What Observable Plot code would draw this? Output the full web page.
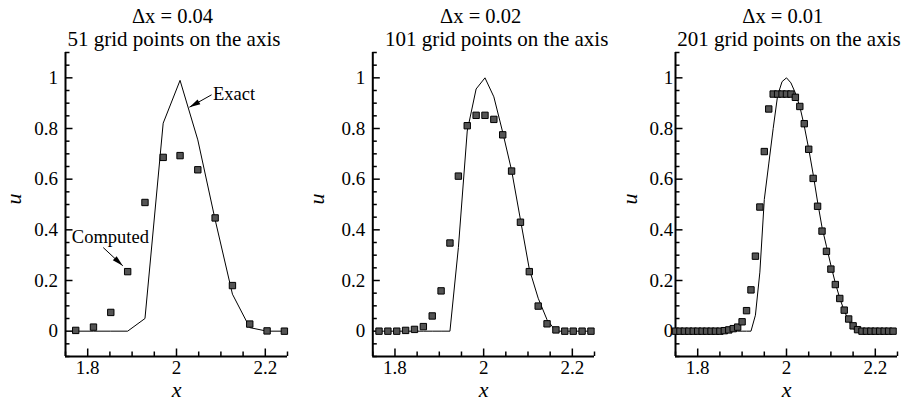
<!DOCTYPE html>
<html><head><meta charset="utf-8">
<script src="https://cdn.jsdelivr.net/npm/d3@7"></script>
<script src="https://cdn.jsdelivr.net/npm/@observablehq/plot@0.6"></script>
<style>
body{margin:0;background:#fff;}
#row{display:flex;width:909px;height:401px;overflow:visible;}
#row svg{flex:none;display:block;overflow:visible;background:none;}
#row svg text{font-family:'Liberation Serif','Times New Roman','DejaVu Serif',serif !important;}
</style></head><body><div id="row"></div>
<script>
// ---- axis ticks ----
const xDomain = [1.75, 2.25];
const yDomain = [-0.1, 1.1];
const xTicks = [1.8, 2, 2.2];
const xMinorTicks = [1.75, 1.85, 1.9, 1.95, 2.05, 2.1, 2.15, 2.25];
const yTicks = [0, 0.2, 0.4, 0.6, 0.8, 1];
const yMinorTicks = [-0.1, -0.05, 0.05, 0.1, 0.15, 0.25, 0.3, 0.35, 0.45, 0.5, 0.55, 0.65, 0.7, 0.75, 0.85, 0.9, 0.95, 1.05, 1.1];

// ---- titles / labels ----
const titlesTop = ["\u0394x = 0.04", "\u0394x = 0.02", "\u0394x = 0.01"];
const titlesBottom = ["51 grid points on the axis", "101 grid points on the axis", "201 grid points on the axis"];
const xLabel = "x";
const yLabel = "u";

// ---- panel 1 (dx = 0.04) ----
const x1 = [1.773, 1.813, 1.852, 1.890, 1.929, 1.970, 2.008, 2.048, 2.087, 2.126, 2.165, 2.204, 2.243];
const computed1 = [0.003, 0.016, 0.074, 0.235, 0.508, 0.686, 0.693, 0.637, 0.447, 0.180, 0.028, 0.001, 0.0];
const exact1 = [0, 0, 0, 0, 0.05, 0.821, 0.99, 0.755, 0.44, 0.146, 0.014, 0, 0];

// ---- panel 2 (dx = 0.02) ----
const x2 = [1.764, 1.784, 1.804, 1.824, 1.844, 1.864, 1.884, 1.904, 1.924, 1.943, 1.963, 1.983, 2.003,
            2.023, 2.043, 2.063, 2.083, 2.103, 2.123, 2.143, 2.163, 2.183, 2.202, 2.222, 2.242];
const computed2 = [0, 0, 0, 0.003, 0.007, 0.018, 0.06, 0.159, 0.348, 0.612, 0.811, 0.852, 0.852,
                   0.836, 0.775, 0.632, 0.43, 0.235, 0.099, 0.029, 0.005, 0, 0, 0, 0];
const exact2 = [0, 0, 0, 0, 0, 0, 0, 0, 0, 0.33, 0.79, 0.956, 1.0,
                0.925, 0.785, 0.635, 0.44, 0.245, 0.13, 0.045, 0, 0, 0, 0, 0];

// ---- panel 3 (dx = 0.01) ----
const x3 = [1.75, 1.76, 1.77, 1.78, 1.79, 1.80, 1.81, 1.82, 1.83, 1.84,
            1.85, 1.86, 1.87, 1.88, 1.89, 1.90, 1.91, 1.92, 1.93, 1.94,
            1.95, 1.96, 1.97, 1.98, 1.99, 2.00, 2.01, 2.02, 2.03, 2.04,
            2.05, 2.06, 2.07, 2.08, 2.09, 2.10, 2.11, 2.12, 2.13, 2.14,
            2.15, 2.16, 2.17, 2.18, 2.19, 2.20, 2.21, 2.22, 2.23, 2.24];
const computed3 = [0, 0, 0, 0, 0, 0, 0, 0, 0, 0,
                   0, 0.002, 0.005, 0.010, 0.016, 0.037, 0.081, 0.163, 0.296, 0.49,
                   0.709, 0.877, 0.936, 0.936, 0.936, 0.936, 0.936, 0.923, 0.887, 0.819,
                   0.718, 0.603, 0.493, 0.395, 0.315, 0.245, 0.184, 0.129, 0.083, 0.048,
                   0.021, 0.006, 0, 0, 0, 0, 0, 0, 0, 0];
const exact3 = [0, 0, 0, 0, 0, 0, 0, 0, 0, 0,
                0, 0, 0, 0, 0, 0, 0, 0, 0.063, 0.233,
                0.52, 0.66, 0.80, 0.93, 0.985, 1.0, 0.98, 0.94, 0.887, 0.81,
                0.72, 0.62, 0.51, 0.41, 0.335, 0.26, 0.19, 0.13, 0.08, 0.042,
                0.01, 0, 0, 0, 0, 0, 0, 0, 0, 0];

// ---- annotations (panel 1) ----
const annLabels = ["Exact", "Computed"];
const annTextX = [2.082, 1.851];
const annTextY = [0.9375, 0.370];
const annAnchor = ["start", "middle"];
const arrowFromX = [2.079, 1.835];
const arrowFromY = [0.933, 0.330];
const arrowToX = [2.029, 1.879];
const arrowToY = [0.884, 0.258];

// ---- layout ----
const W = 303, H = 401, MT = 52, MB = 45;
const layout = [
  {ml: 65, mr: 16, yPad: 7.5, uDx: -45, t1Dx: -4, t2Dx: -2.5},
  {ml: 69.3, mr: 12, yPad: 7.5, uDx: -48.6, t1Dx: -3, t2Dx: 13},
  {ml: 69, mr: 12, yPad: 2.3, uDx: -38.3, t1Dx: -3.7, t2Dx: 2.5}
];
const serif = "'Liberation Serif', 'Times New Roman', 'DejaVu Serif', serif";

const series = [
  {xs: x1, comp: computed1, ex: exact1},
  {xs: x2, comp: computed2, ex: exact2},
  {xs: x3, comp: computed3, ex: exact3}
];

const row = document.getElementById("row");

series.forEach((s, i) => {
  const L = layout[i];
  const fw = W - L.ml - L.mr;
  const fh = H - MT - MB;
  const data = s.xs.map((x, j) => ({x, c: s.comp[j], e: s.ex[j]}));
  const marks = [
    Plot.ruleX([xDomain[0]], {x: d => d, stroke: "black", strokeWidth: 2}),
    Plot.ruleY([yDomain[0]], {y: d => d, stroke: "black", strokeWidth: 2}),
    Plot.tickX(xTicks, {x: d => d, insetTop: fh - 7.5, stroke: "black", strokeWidth: 1.5}),
    Plot.tickX(xMinorTicks, {x: d => d, insetTop: fh - 4.5, stroke: "black", strokeWidth: 1.5}),
    Plot.tickY(yTicks, {y: d => d, insetRight: fw - 7.5, stroke: "black", strokeWidth: 1.5}),
    Plot.tickY(yMinorTicks, {y: d => d, insetRight: fw - 4.5, stroke: "black", strokeWidth: 1.5}),
    Plot.line(data, {x: "x", y: "e", stroke: "black", strokeWidth: 1}),
    Plot.dot(data, {x: "x", y: "c", symbol: "square", r: 3.6, fill: "#545454", stroke: "black", strokeWidth: 1}),
    Plot.text([titlesTop[i]], {text: d => d, frameAnchor: "top", lineAnchor: "bottom", dy: -29.5, dx: L.t1Dx, fontSize: 20.5, fontFamily: serif}),
    Plot.text([titlesBottom[i]], {text: d => d, frameAnchor: "top", lineAnchor: "bottom", dy: -6.5, dx: L.t2Dx, fontSize: 21, fontFamily: serif}),
    Plot.text([xLabel], {text: d => d, frameAnchor: "bottom", lineAnchor: "bottom", dy: 40, fontSize: 22, fontStyle: "italic", fontFamily: serif}),
    Plot.text([yLabel], {text: d => d, frameAnchor: "left", lineAnchor: "bottom", rotate: -90, dx: L.uDx, fontSize: 22, fontStyle: "italic", fontFamily: serif})
  ];
  if (i === 0) {
    const ann = annLabels.map((t, j) => ({t, x: annTextX[j], y: annTextY[j], a: annAnchor[j],
      x1: arrowFromX[j], y1: arrowFromY[j], x2: arrowToX[j], y2: arrowToY[j]}));
    marks.push(
      Plot.link(ann, {x1: "x1", y1: "y1", x2: "x2", y2: "y2", stroke: "black", strokeWidth: 1, markerEnd: "arrow"}),
      Plot.text(ann.filter(d => d.a === "start"), {x: "x", y: "y", text: "t", textAnchor: "start", fontSize: 18.5, fontFamily: serif}),
      Plot.text(ann.filter(d => d.a === "middle"), {x: "x", y: "y", text: "t", textAnchor: "middle", fontSize: 18.5, fontFamily: serif})
    );
  }
  const svg = Plot.plot({
    width: W, height: H,
    marginLeft: L.ml, marginRight: L.mr, marginTop: MT, marginBottom: MB,
    style: "font-family: " + serif + "; font-size: 19px; color: black; background: none; overflow: visible;",
    x: {domain: xDomain, ticks: xTicks, tickSize: 0, tickPadding: 4, tickFormat: d => String(d), label: null},
    y: {domain: yDomain, ticks: yTicks, tickSize: 0, tickPadding: L.yPad, tickFormat: d => String(d), label: null},
    marks
  });
  svg.setAttribute("font-family", serif);
  svg.setAttribute("font-size", "19");
  svg.querySelectorAll("marker").forEach(m => {
    m.setAttribute("viewBox", "-12 -6 12 12");
    m.setAttribute("markerWidth", 12);
    m.setAttribute("markerHeight", 12);
    m.setAttribute("markerUnits", "userSpaceOnUse");
    m.setAttribute("fill", "black");
    m.setAttribute("stroke", "none");
    const p = m.querySelector("path");
    if (p) p.setAttribute("d", "M-11,-2.8L0,0L-11,2.8Z");
  });
  row.appendChild(svg);
});
</script>
</body></html>
